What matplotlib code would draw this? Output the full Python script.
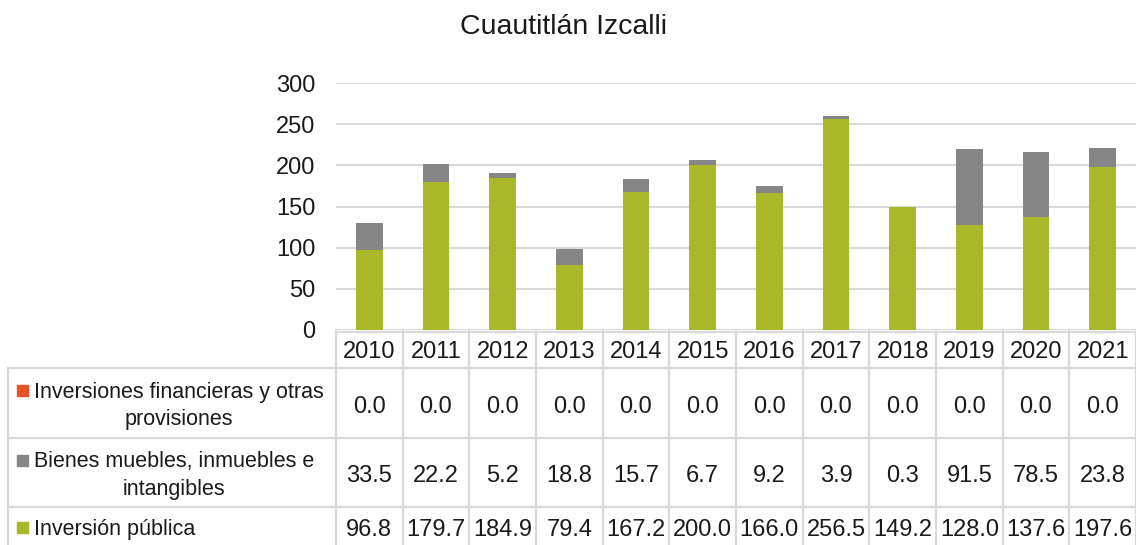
import matplotlib
matplotlib.use("Agg")
import matplotlib.pyplot as plt
import matplotlib.transforms as mtransforms
from matplotlib.patches import Rectangle
import numpy as np

# data
years = ["2010", "2011", "2012", "2013", "2014", "2015",
         "2016", "2017", "2018", "2019", "2020", "2021"]
inversion_publica = [96.8, 179.7, 184.9, 79.4, 167.2, 200.0,
                     166.0, 256.5, 149.2, 128.0, 137.6, 197.6]
bienes_muebles = [33.5, 22.2, 5.2, 18.8, 15.7, 6.7,
                  9.2, 3.9, 0.3, 91.5, 78.5, 23.8]
inversiones_fin = [0.0] * 12

series_labels = ["Inversiones financieras y otras\nprovisiones",
                 "Bienes muebles, inmuebles e\nintangibles",
                 "Inversión pública"]
yticks = [0, 50, 100, 150, 200, 250, 300]

green = "#A9B829"
gray = "#868686"
orange = "#E2532A"
line_c = "#D9D9D9"
txt_c = "#1a1a1a"

plt.rcParams["font.family"] = ["Liberation Sans", "DejaVu Sans"]

W, H = 1136, 545
fig = plt.figure(figsize=(W / 100, H / 100), dpi=100)

def fy(py):
    # pixel from top -> figure fraction
    return 1 - py / H

ax = fig.add_axes([336 / W, fy(330), 800 / W, (330 - 83) / H])
x = np.arange(len(years))
ax.bar(x, inversion_publica, width=0.4, color=green, zorder=3)
ax.bar(x, bienes_muebles, width=0.4, bottom=inversion_publica, color=gray, zorder=3)
bottom2 = np.array(inversion_publica) + np.array(bienes_muebles)
ax.bar(x, inversiones_fin, width=0.4, bottom=bottom2, color=orange, zorder=3)

ax.set_xlim(-0.5, len(years) - 0.5)
ax.set_ylim(0, 300)
ax.set_yticks(yticks)
ax.set_yticklabels([str(t) for t in yticks], fontsize=17, color=txt_c)
ax.tick_params(axis="y", length=0, pad=15)
ax.set_xticks([])
ax.grid(axis="y", color=line_c, linewidth=1.5, zorder=0)
for s in ax.spines.values():
    s.set_visible(False)

fig.text(563 / W, fy(27), "Cuautitlán Izcalli", fontsize=20.5,
         ha="center", va="center", color=txt_c)

# table: x in data coords, y in figure fraction
tr = mtransforms.blended_transform_factory(ax.transData, fig.transFigure)
trf = fig.transFigure

row_edges = [332, 368, 438, 507, 550]
rows = [inversiones_fin, bienes_muebles, inversion_publica]
colors = [orange, gray, green]
lw = 1.6
n = len(years)

# horizontal lines over data columns
for py in row_edges:
    ax.plot([-0.5, n - 0.5], [fy(py)] * 2, transform=tr, color=line_c,
            lw=lw, clip_on=False)
# label column lines
for py in row_edges[1:]:
    fig.add_artist(plt.Line2D([8 / W, 336 / W], [fy(py)] * 2, color=line_c, lw=lw))
fig.add_artist(plt.Line2D([8 / W, 8 / W], [fy(368), fy(550)], color=line_c, lw=lw))
# vertical lines between columns
for i in range(n + 1):
    ax.plot([i - 0.5] * 2, [fy(330), fy(550)], transform=tr, color=line_c,
            lw=lw, clip_on=False)

# header
for i, yr in enumerate(years):
    ax.text(i, fy(352), yr, transform=tr, ha="center", va="center",
            fontsize=17, color=txt_c)

# body
for r, vals in enumerate(rows):
    top, bot = row_edges[r + 1], row_edges[r + 2]
    cy = (top + bot) / 2 + 2 if r < 2 else 528
    for i, v in enumerate(vals):
        ax.text(i, fy(cy + 2), f"{v:.1f}", transform=tr, ha="center", va="center",
                fontsize=17, color=txt_c)
    fig.text(34 / W, fy(cy + 1), series_labels[r], ha="left", va="center",
             multialignment="center", fontsize=15.5, color=txt_c,
             linespacing=1.4)
    ky = cy - 15 if r < 2 else cy - 1
    fig.add_artist(Rectangle((17 / W, fy(ky + 6)), 11 / W, 11 / H,
                             color=colors[r], transform=trf))

fig.savefig("out.png", dpi=100)
